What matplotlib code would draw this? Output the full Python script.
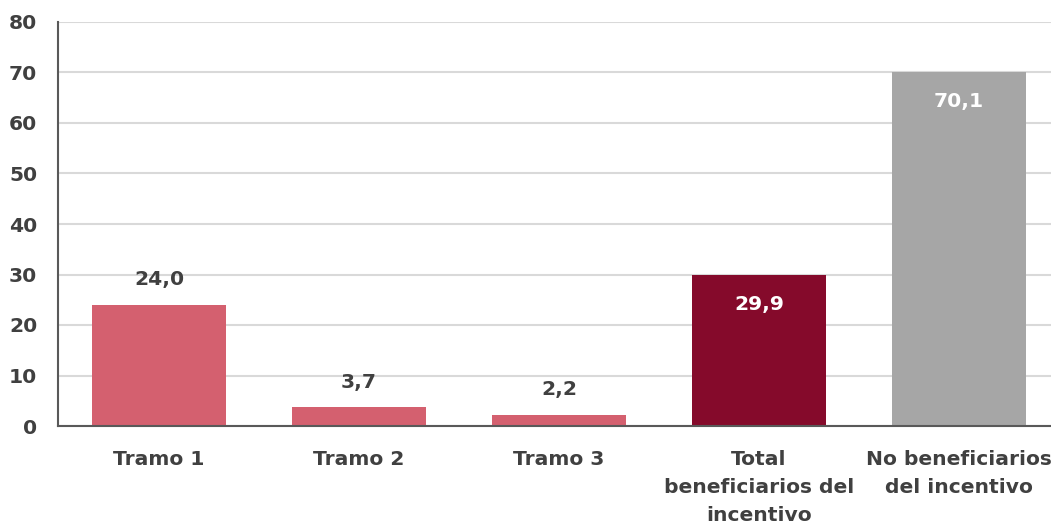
import matplotlib
matplotlib.use("Agg")
import matplotlib.pyplot as plt

categories = ["Tramo 1", "Tramo 2", "Tramo 3", "Total\nbeneficiarios del\nincentivo", "No beneficiarios\ndel incentivo"]
values = [24.0, 3.7, 2.2, 29.9, 70.1]
colors = ["#d4606f", "#d4606f", "#d4606f", "#850a2b", "#a6a6a6"]
label_inside = [False, False, False, True, True]
yticks = [0, 10, 20, 30, 40, 50, 60, 70, 80]

plt.rcParams['font.family'] = ['DejaVu Sans']
txt = "#404040"
fs = 14.6

fig = plt.figure(figsize=(10.51, 5.24), dpi=100)
ax = fig.add_axes([58/1051, 98/524, 1000/1051, 404/524])
x = list(range(len(categories)))
ax.bar(x, values, width=0.67, color=colors, zorder=3)
ax.set_xlim(-0.505, 4.495)
ax.set_ylim(0, 80)
ax.set_yticks(yticks)
ax.set_yticklabels([str(v) for v in yticks], fontsize=fs, fontweight="bold", color=txt)
ax.set_xticks(x)
ax.set_xticklabels(categories, fontsize=fs, fontweight="bold", color=txt, linespacing=1.62)
ax.tick_params(axis="both", length=0)
ax.tick_params(axis="y", pad=15)
ax.tick_params(axis="x", pad=17)
ax.grid(axis="y", color="#d9d9d9", linewidth=1.5, zorder=0)
for s in ["top", "right"]:
    ax.spines[s].set_visible(False)
for s in ["left", "bottom"]:
    ax.spines[s].set_color("#595959")
    ax.spines[s].set_linewidth(1.5)
    ax.spines[s].set_zorder(4)

for xi, v, inside in zip(x, values, label_inside):
    lab = f"{v:.1f}".replace(".", ",")
    if inside:
        ax.annotate(lab, (xi, v), xytext=(0, -21), textcoords="offset points",
                    ha="center", va="center", fontsize=fs, fontweight="bold", color="white", zorder=5)
    else:
        ax.annotate(lab, (xi, v), xytext=(0, 18), textcoords="offset points",
                    ha="center", va="center", fontsize=fs, fontweight="bold", color=txt, zorder=5)

fig.savefig("out.png", dpi=100)
